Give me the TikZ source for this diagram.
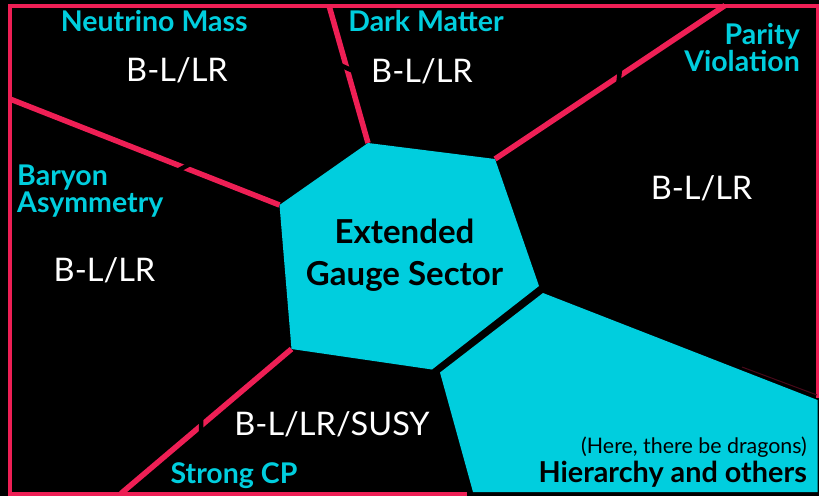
\documentclass[tikz,border=0pt]{standalone}
\usepackage{fontspec}
\setmainfont{Lato}
\usetikzlibrary{calc}
\definecolor{pinkline}{HTML}{EE1F55}
\definecolor{cyanfill}{HTML}{00CEDE}
\begin{document}
\begin{tikzpicture}[x=1pt,y=-1pt,
  frame/.style={draw=pinkline,line width=4pt,line join=miter},
  divider/.style={draw=pinkline,line width=5.5pt},
  cut/.style={draw=black,line width=4.5pt},
  region/.style={fill=cyanfill},
  topic/.style={text=cyanfill,inner sep=0pt,font=\bfseries\fontsize{28.5}{22.5}\selectfont},
  model/.style={text=white,inner sep=0pt,font=\fontsize{32.5}{36}\selectfont},
  core/.style={text=black,inner sep=0pt,font=\bfseries\fontsize{33}{42}\selectfont},
  note/.style={text=black,inner sep=0pt,font=\fontsize{21.4}{24}\selectfont},
  bignote/.style={text=black,inner sep=0pt,font=\bfseries\fontsize{28.8}{31}\selectfont}]
\fill[black] (0,0) rectangle (819,496);
\useasboundingbox (0,0) rectangle (819,496);
% pentagon (extended gauge sector)
\coordinate (pT) at (368,143);
\coordinate (pUR) at (495,159);
\coordinate (pR) at (539,286);
\coordinate (pB) at (432,369.5);
\coordinate (pLL) at (291.5,349);
\coordinate (pL) at (279.5,205);
% hierarchy region
\coordinate (hA) at (543,293);
\coordinate (hB) at (817.5,400);
\coordinate (hC) at (817.5,492);
\coordinate (hD) at (473,492);
\coordinate (hE) at (440,372.5);
% frame ends
\coordinate (fTA) at (329,5.5);
\coordinate (fLB) at (10,99);
\coordinate (fTC) at (725,5.5);
\coordinate (fBD) at (121,493.5);
% frame
\draw[frame] (467,493.5) -- (10,493.5) -- (10,5.5) -- (817.5,5.5) -- (817.5,398);
\draw[draw=pinkline!30!black,line width=1pt] (742,367) -- (817,395);
% dividers
\draw[divider] (fTA) -- (pT);
\draw[divider] (fLB) -- (pL);
\draw[divider] (fTC) -- (pUR);
\draw[divider] (fBD) -- (pLL);
% breaks in the dividers
\coordinate (nA) at ($(fTA)!0.455!(pT)$);
\coordinate (nB) at ($(fLB)!0.645!(pL)$);
\coordinate (nC) at ($(fTC)!0.46!(pUR)$);
\coordinate (nD) at ($(fBD)!0.47!(pLL)$);
\draw[cut] ($(nA)!6.5pt!50:(pT)$) -- ($(nA)!6.5pt!230:(pT)$);
\draw[cut] ($(nB)!6.5pt!50:(pL)$) -- ($(nB)!6.5pt!230:(pL)$);
\draw[cut] ($(nC)!6.5pt!50:(pUR)$) -- ($(nC)!6.5pt!230:(pUR)$);
\draw[cut] ($(nD)!6.5pt!50:(pLL)$) -- ($(nD)!6.5pt!230:(pLL)$);
% regions
\fill[region] (pT) -- (pUR) -- (pR) -- (pB) -- (pLL) -- (pL) -- cycle;
\fill[region] (hA) -- (hB) -- (hC) -- (hD) -- (hE) -- cycle;
% texts
\node[topic,anchor=base] (nm) at (154.2,31.7) {Neutrino Mass};
\node[topic,anchor=base] (dm) at (426,31) {Dark Matter};
\node[model,anchor=base] (m1) at (177,81.5) {B-L/LR};
\node[model,anchor=base] (m2) at (422,82) {B-L/LR};
\node[topic,anchor=base east,align=right] (pv) at (800,71.7) {Parity\\Violation};
\node[model,anchor=base] (m3) at (701.5,199.3) {B-L/LR};
\node[topic,anchor=base west,align=left] (ba) at (17,212) {Baryon\\Asymmetry};
\node[model,anchor=base] (m4) at (104.5,281.7) {B-L/LR};
\node[core,anchor=base,align=center] (eg) at (404.5,285) {Extended\\Gauge Sector};
\node[model,anchor=base] (m5) at (332,435) {B-L/LR/SUSY};
\node[topic,anchor=base] (sc) at (234,483.3) {Strong CP};
\node[note,anchor=base east] (dr) at (807,453.3) {(Here, there be dragons)};
\node[bignote,anchor=base east] (hi) at (807,482.3) {Hierarchy and others};
\end{tikzpicture}
\end{document}
